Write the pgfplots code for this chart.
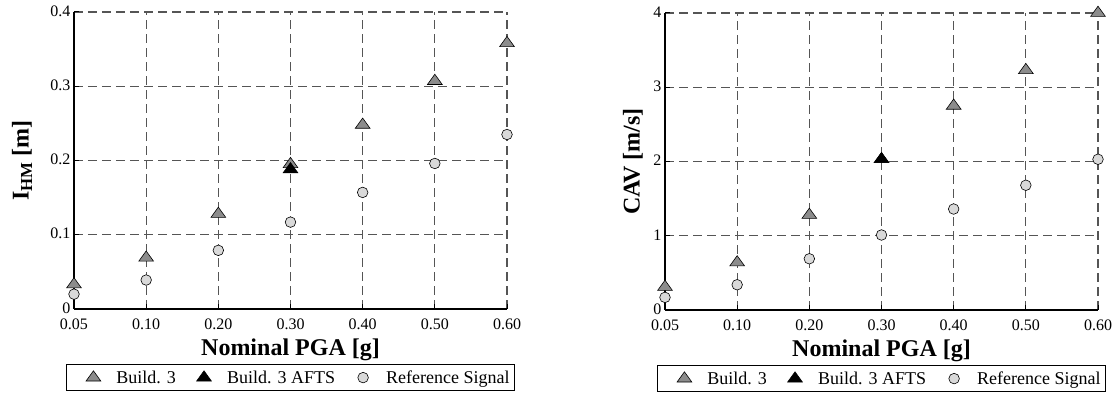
\documentclass[border=0pt]{standalone}
\usepackage{fontspec}
\setmainfont{Liberation Serif}
\usepackage{pgfplots}
\pgfplotsset{compat=1.18}

\definecolor{tri}{HTML}{8C8C8C}
\definecolor{circ}{HTML}{D9D9D9}
\definecolor{gridc}{HTML}{555555}

\pgfplotsset{
 mystyle/.style={
  scale only axis, width=433pt, height=297pt,
  xmin=0, xmax=6, ymin=0,
  xtick={0,...,6}, xticklabels={0.05,0.10,0.20,0.30,0.40,0.50,0.60},
  axis x line=bottom, axis y line=left,
  axis line style={-, line width=1.1pt, black},
  tick align=inside, major tick length=5pt, tick style={black, line width=1pt},
  grid=major, major grid style={dash pattern=on 9pt off 5pt, gridc, line width=1.1pt},
  clip=false,
  tick label style={font=\fontsize{16}{18}\selectfont},
  xticklabel style={yshift=-6pt},
  yticklabel style={yshift=1pt},
  label style={font=\fontsize{24}{27}\selectfont\bfseries},
  xlabel={Nominal PGA [g]},
  xlabel style={at={(axis description cs:0.5,-0.138)}, anchor=center},
  legend columns=3,
  legend style={at={(axis description cs:0.5,-0.231)}, anchor=center,
    draw=black, line width=1pt, font=\fontsize{18}{20}\selectfont,
    inner xsep=3pt, inner ysep=4pt,
    /tikz/every odd column/.append style={column sep=12pt},
    /tikz/every even column/.append style={column sep=2pt}},
  legend cell align=left,
 },
 mylegimg/.style={legend image code/.code={%
    \path (-15pt,0) (0.6cm,0);
    \draw[##1, draw=none] plot coordinates {(0.3cm,0cm)};}},
 trimark/.style={only marks, mark=triangle*, mark size=8.5pt,
    mark options={fill=tri, draw=black, line width=0.6pt, yscale=0.8}, mylegimg},
 blkmark/.style={only marks, mark=triangle*, mark size=8.5pt,
    mark options={fill=black, draw=black, line width=0.6pt, yscale=0.8}, mylegimg},
 cirmark/.style={only marks, mark=*, mark size=5.3pt,
    mark options={fill=circ, draw=black, line width=0.6pt}, mylegimg},
}

\begin{document}
\begin{tikzpicture}
\useasboundingbox (0,0) rectangle (1114pt,396pt);

\begin{axis}[mystyle, at={(74pt,87pt)}, anchor=south west,
  ymax=0.4, ytick={0,0.1,0.2,0.3,0.4}, yticklabels={0,0.1,0.2,0.3,0.4},
  ylabel={I\textsubscript{HM} [m]},
  ylabel style={at={(axis description cs:-0.12,0.5)}, anchor=center}]
\addplot[trimark] coordinates {(0,0.033) (1,0.069) (2,0.128) (3,0.195) (4,0.248) (5,0.307) (6,0.358)};
\addlegendentry{Build. 3}
\addplot[blkmark] coordinates {(3,0.188)};
\addlegendentry{Build. 3 AFTS}
\addplot[cirmark] coordinates {(0,0.020) (1,0.039) (2,0.079) (3,0.117) (4,0.157) (5,0.196) (6,0.235)};
\addlegendentry{Reference Signal}
\end{axis}

\begin{axis}[mystyle, at={(665pt,86pt)}, anchor=south west,
  ymax=4, ytick={0,1,2,3,4}, yticklabels={0,1,2,3,4},
  ylabel={CAV [m/s]},
  ylabel style={at={(axis description cs:-0.074,0.5)}, anchor=center}]
\addplot[trimark] coordinates {(0,0.31) (1,0.64) (2,1.28) (3,2.03) (4,2.75) (5,3.23) (6,4.00)};
\addlegendentry{Build. 3}
\addplot[blkmark] coordinates {(3,2.03)};
\addlegendentry{Build. 3 AFTS}
\addplot[cirmark] coordinates {(0,0.17) (1,0.34) (2,0.69) (3,1.01) (4,1.36) (5,1.68) (6,2.03)};
\addlegendentry{Reference Signal}
\end{axis}
\end{tikzpicture}
\end{document}
